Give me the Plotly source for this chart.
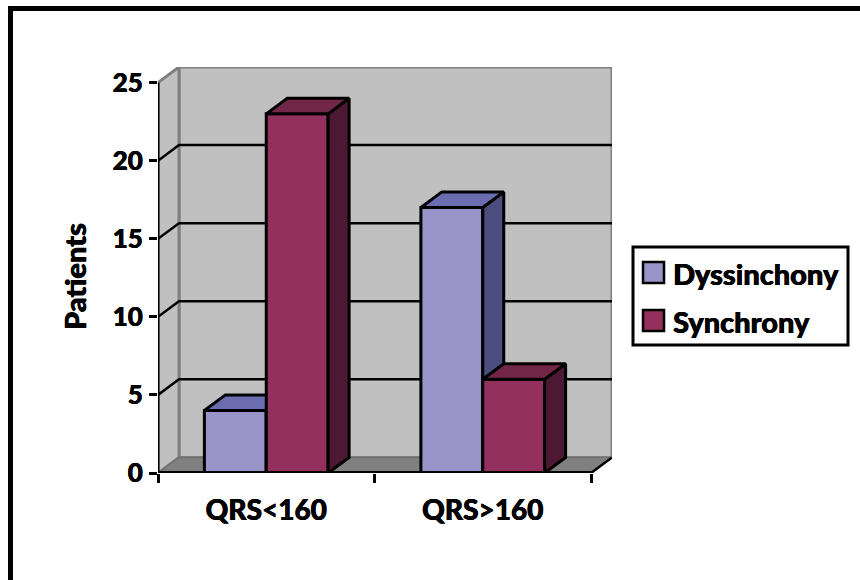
import plotly.graph_objects as go

# Chart data
categories = ["QRS<160", "QRS>160"]
series_names = ["Dyssinchony", "Synchrony"]
dyssinchony = [4, 17]
synchrony = [23, 6]
y_ticks = [0, 5, 10, 15, 20, 25]

# Face colours for each series: front, top, side
dys_faces = ("#9894C8", "#6C6CB0", "#4C4C7E")
syn_faces = ("#93305E", "#722648", "#4D1932")

W, H = 860, 580
PLOT_L, PLOT_R, PLOT_T, PLOT_B = 158, 612, 67, 473

# Oblique projection depth, expressed in axis units
DEPTH_X = 0.097
DEPTH_Y = 1.0
X_MAX = len(categories) + DEPTH_X
Y_MAX = y_ticks[-1] + DEPTH_Y
BAR_W = 2 / 3.5 / 2  # gap width of 150 %
FONT = "Lato, Carlito, Calibri, sans-serif"
HEAVY = "0.4px 0 0 #000, -0.3px 0 0 #000"  # thickens the bold strokes slightly

fig = go.Figure()


def poly(xs, ys, fill=None, line="#000000", width=3):
    fig.add_trace(go.Scatter(
        x=xs, y=ys, mode="lines", hoverinfo="skip", showlegend=False,
        fill="toself" if fill else None, fillcolor=fill,
        line=dict(color=line, width=width),
    ))


# Walls and floor
n = len(categories)
top = y_ticks[-1]
poly([DEPTH_X, n + DEPTH_X, n + DEPTH_X, DEPTH_X, DEPTH_X],
     [DEPTH_Y, DEPTH_Y, top + DEPTH_Y, top + DEPTH_Y, DEPTH_Y],
     fill="#C0C0C0", line="#808080", width=3)
poly([0, DEPTH_X, DEPTH_X, 0, 0], [0, DEPTH_Y, top + DEPTH_Y, top, 0],
     fill="#C0C0C0", line="#808080", width=3)
poly([0, n, n + DEPTH_X, DEPTH_X, 0], [0, 0, DEPTH_Y, DEPTH_Y, 0],
     fill="#808080", line="#707070", width=1.5)
poly([n, n + DEPTH_X], [0, DEPTH_Y], width=2.5)

# Gridlines running along the side wall and the back wall
for v in y_ticks[1:-1]:
    poly([0, DEPTH_X, n + DEPTH_X], [v, v + DEPTH_Y, v + DEPTH_Y], width=2.5)


def bar3d(left, value, faces):
    front, upper, side = faces
    right = left + BAR_W
    poly([left, right, right, left, left], [0, 0, value, value, 0], fill=front)
    poly([right, right + DEPTH_X, right + DEPTH_X, right, right],
         [0, DEPTH_Y, value + DEPTH_Y, value, 0], fill=side)
    poly([left, right, right + DEPTH_X, left + DEPTH_X, left],
         [value, value, value + DEPTH_Y, value + DEPTH_Y, value], fill=upper)


for i in range(n):
    start = i + (1 - 2 * BAR_W) / 2
    bar3d(start, dyssinchony[i], dys_faces)
    bar3d(start + BAR_W, synchrony[i], syn_faces)

# Front axis lines
poly([0, 0], [0, top], width=3)
poly([0, n], [0, 0], width=4)


def px(x):
    return x / W


def py(y):
    return 1 - y / H


shapes = [
    # Outer frame: top and left edges
    dict(type="rect", xref="paper", yref="paper", layer="above",
         x0=px(8), x1=1, y0=py(11), y1=py(6),
         fillcolor="#000000", line_width=0),
    dict(type="rect", xref="paper", yref="paper", layer="above",
         x0=px(8), x1=px(13), y0=0, y1=py(6),
         fillcolor="#000000", line_width=0),
    # Legend box
    dict(type="rect", xref="paper", yref="paper",
         x0=px(633), x1=px(848), y0=py(345), y1=py(247),
         fillcolor="#FFFFFF", line=dict(color="#000000", width=3)),
]
annotations = [
    dict(text="Patients", xref="paper", yref="paper", x=px(74), y=py(277),
         xanchor="center", yanchor="middle", textangle=-90, showarrow=False,
         font=dict(family=FONT, size=29, weight=900, color="#000", shadow=HEAVY)),
]
legend_rows = [(series_names[0], dys_faces[0], 272.5), (series_names[1], syn_faces[0], 320.5)]
for name, colour, cy in legend_rows:
    shapes.append(dict(type="rect", xref="paper", yref="paper",
                       x0=px(643), x1=px(664), y0=py(cy + 10.5), y1=py(cy - 10.5),
                       fillcolor=colour, line=dict(color="#000000", width=2.5)))
    annotations.append(dict(text=name, xref="paper", yref="paper",
                            x=px(671), y=py(cy + 1), xanchor="left", yanchor="middle",
                            showarrow=False,
                            font=dict(family=FONT, size=29, weight=900, color="#000", shadow=HEAVY)))

fig.update_layout(
    width=W, height=H, margin=dict(l=0, r=0, t=0, b=0, autoexpand=False),
    paper_bgcolor="#FFFFFF", plot_bgcolor="#FFFFFF", showlegend=False,
    shapes=shapes, annotations=annotations,
    xaxis=dict(
        domain=[px(PLOT_L), px(PLOT_R)], range=[0, X_MAX], showgrid=False,
        zeroline=False, showline=False, automargin=False,
        tickvals=[i + 0.5 for i in range(n)], ticktext=categories,
        ticks="outside", ticklen=12, tickcolor="rgba(0,0,0,0)",
        tickfont=dict(family=FONT, size=28, weight=900, color="#000", shadow=HEAVY),
        minor=dict(tickvals=list(range(n + 1)), ticks="outside", ticklen=9,
                   tickwidth=2.5, tickcolor="#000"),
    ),
    yaxis=dict(
        domain=[py(PLOT_B), py(PLOT_T)], range=[0, Y_MAX], showgrid=False,
        zeroline=False, showline=False, automargin=False,
        tickvals=y_ticks, ticktext=[str(v) for v in y_ticks],
        ticks="outside", ticklen=8, tickwidth=2.5, tickcolor="#000", ticklabelstandoff=1,
        tickfont=dict(family=FONT, size=26, weight=900, color="#000", shadow=HEAVY),
    ),
)

fig.write_html("out.html")
